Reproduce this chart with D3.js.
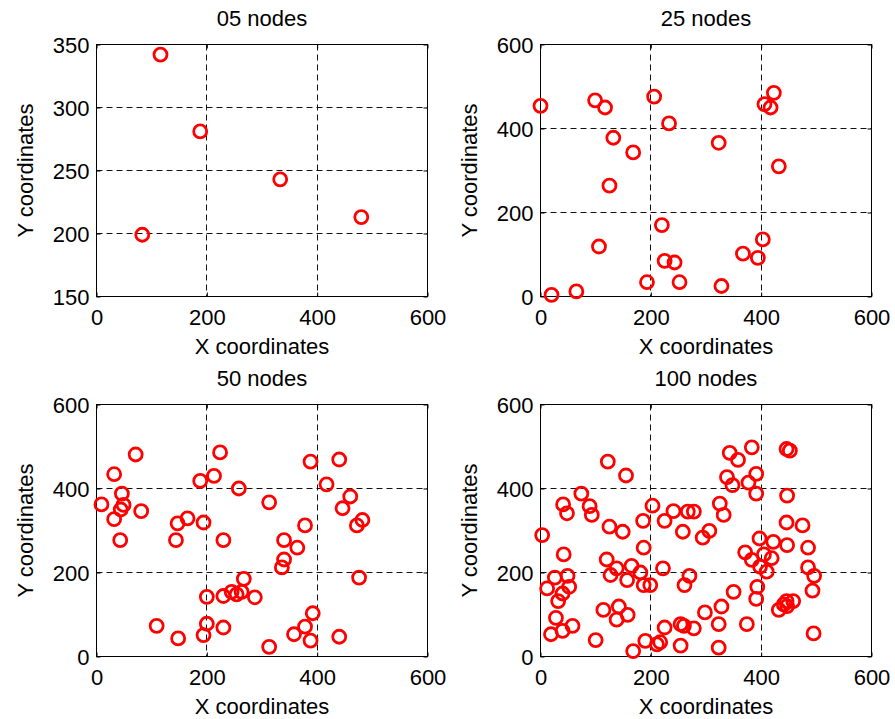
<!DOCTYPE html>
<html>
<head>
<meta charset="utf-8">
<script src="https://cdn.jsdelivr.net/npm/d3@7"></script>
<style>
  html, body { margin: 0; padding: 0; background: #fff; }
  svg { display: block; font-family: "Liberation Sans", Arial, sans-serif; }
</style>
</head>
<body>
<svg id="chart" width="895" height="719"></svg>
<script>
// Tick values and labels
const xTicks = [0, 200, 400, 600];
const yTicks05 = [150, 200, 250, 300, 350];
const yTicksN = [0, 200, 400, 600];
const titles = ["05 nodes", "25 nodes", "50 nodes", "100 nodes"];
const xLabel = "X coordinates";
const yLabel = "Y coordinates";

// Node positions for each network size
const nodes05X = [116, 188, 333, 480, 83];
const nodes05Y = [342, 281, 243, 213, 199];

const nodes25X = [0, 99, 117, 206, 233, 132, 168, 323, 406, 423, 417, 432, 125,
                  220, 106, 225, 243, 193, 252, 328, 367, 394, 403, 20, 65];
const nodes25Y = [454, 467, 450, 476, 412, 378, 343, 366, 458, 485, 450, 310, 264,
                  170, 119, 85, 81, 34, 34, 25, 102, 92, 136, 4, 12];

const nodes50X = [71, 32, 46, 49, 9, 44, 32, 81, 43, 224, 213, 188, 258, 165, 147, 194, 144,
                  230, 313, 388, 440, 417, 460, 446, 482, 472, 378, 340, 364, 340, 336, 476,
                  267, 200, 230, 245, 263, 254, 287, 109, 148, 200, 194, 230, 313, 392, 378,
                  358, 388, 440];
const nodes50Y = [481, 434, 388, 361, 362, 350, 327, 346, 277, 486, 430, 418, 400, 329, 317, 319, 277,
                  277, 367, 464, 469, 410, 381, 353, 325, 312, 312, 277, 259, 231, 212, 188,
                  185, 142, 144, 154, 154, 148, 141, 73, 43, 78, 51, 69, 23, 103, 71,
                  53, 38, 47];

const nodes100X = [122, 155, 74, 41, 48, 89, 93, 125, 149, 203, 186, 225, 241, 267, 278, 258, 294, 3,
                   383, 343, 358, 446, 452, 391, 338, 348, 377, 391, 447, 325, 332, 306, 446, 475, 397, 422,
                   447, 485, 371, 383, 405, 419, 398, 410, 485, 496, 393, 493, 350, 391, 446, 458, 441,
                   432, 447, 328, 298, 323, 374, 495, 323,
                   42, 187, 120, 138, 127, 165, 157, 181, 187, 199, 222, 270, 261, 26, 49, 12, 52, 40,
                   32, 28, 19, 40, 58, 100, 114, 142, 138, 158, 168, 190, 211, 217, 225, 254, 260, 278, 254];
const nodes100Y = [464, 431, 388, 362, 341, 358, 337, 309, 297, 359, 323, 323, 346, 345, 345, 297, 283, 289,
                   498, 485, 468, 494, 490, 435, 427, 408, 414, 388, 383, 364, 337, 299, 319, 312, 281, 273,
                   265, 259, 248, 230, 243, 234, 214, 202, 212, 192, 166, 157, 154, 137, 132, 132, 124,
                   111, 120, 119, 105, 77, 77, 55, 21,
                   243, 259, 231, 210, 194, 216, 182, 200, 170, 170, 210, 192, 170, 188, 192, 162, 166, 150,
                   132, 92, 53, 61, 73, 39, 111, 119, 88, 99, 13, 37, 29, 34, 69, 77, 73, 67, 26];

const W = 331, H = 252;
const panels = [
  { title: titles[0], xs: nodes05X, ys: nodes05Y, yDomain: [150, 350], yTicks: yTicks05, left: 96.5, top: 44.5 },
  { title: titles[1], xs: nodes25X, ys: nodes25Y, yDomain: [0, 600], yTicks: yTicksN, left: 540.5, top: 44.5 },
  { title: titles[2], xs: nodes50X, ys: nodes50Y, yDomain: [0, 600], yTicks: yTicksN, left: 96.5, top: 404.5 },
  { title: titles[3], xs: nodes100X, ys: nodes100Y, yDomain: [0, 600], yTicks: yTicksN, left: 540.5, top: 404.5 }
];

const svg = d3.select("#chart");
const FS = 22;
const snap = v => Math.round(v - 0.5) + 0.5;

function styleAxis(sel) {
  sel.select(".domain").remove();
  sel.attr("font-size", FS).attr("font-family", null);
  sel.selectAll(".tick line").attr("stroke", "#000").attr("stroke-width", 1);
  sel.selectAll(".tick text").attr("fill", "#000");
}

panels.forEach(p => {
  const x = d3.scaleLinear().domain([0, 600]).range([p.left, p.left + W]);
  const y = d3.scaleLinear().domain(p.yDomain).range([p.top + H, p.top]);
  const g = svg.append("g");

  // dashed grid
  const grid = g.append("g").attr("stroke", "#111").attr("stroke-width", 1)
    .attr("stroke-dasharray", "6,4").attr("fill", "none");
  grid.selectAll("line.gx").data(xTicks.slice(1, -1)).join("line").attr("class", "gx")
    .attr("x1", d => snap(x(d))).attr("x2", d => snap(x(d)))
    .attr("y1", p.top).attr("y2", p.top + H);
  grid.selectAll("line.gy").data(p.yTicks.slice(1, -1)).join("line").attr("class", "gy")
    .attr("y1", d => snap(y(d))).attr("y2", d => snap(y(d)))
    .attr("x1", p.left).attr("x2", p.left + W);

  // axes with inward ticks on all four sides
  g.append("g").attr("transform", `translate(0,${p.top + H})`)
    .call(d3.axisBottom(x).tickValues(xTicks).tickSizeInner(-4).tickSizeOuter(0).tickPadding(12.5).tickFormat(d3.format("d")))
    .call(styleAxis);
  g.append("g").attr("transform", `translate(0,${p.top})`)
    .call(d3.axisTop(x).tickValues(xTicks).tickSizeInner(-4).tickSizeOuter(0).tickFormat(""))
    .call(styleAxis);
  g.append("g").attr("transform", `translate(${p.left},0)`)
    .call(d3.axisLeft(y).tickValues(p.yTicks).tickSizeInner(-4).tickSizeOuter(0).tickPadding(7).tickFormat(d3.format("d")))
    .call(styleAxis)
    .selectAll(".tick text").attr("dy", "0.36em");
  g.append("g").attr("transform", `translate(${p.left + W},0)`)
    .call(d3.axisRight(y).tickValues(p.yTicks).tickSizeInner(-4).tickSizeOuter(0).tickFormat(""))
    .call(styleAxis);

  // axes box
  g.append("rect").attr("x", p.left).attr("y", p.top).attr("width", W).attr("height", H)
    .attr("fill", "none").attr("stroke", "#000").attr("stroke-width", 1);

  // node markers
  g.append("g").selectAll("circle").data(d3.zip(p.xs, p.ys)).join("circle")
    .attr("cx", d => x(d[0])).attr("cy", d => y(d[1])).attr("r", 6.5)
    .attr("fill", "none").attr("stroke", "#ff0000").attr("stroke-width", 2.8);

  // title and axis labels
  g.append("text").attr("x", p.left + W / 2).attr("y", p.top - 19)
    .attr("text-anchor", "middle").attr("font-size", FS).text(p.title);
  g.append("text").attr("x", p.left + W / 2).attr("y", p.top + H + 57.5)
    .attr("text-anchor", "middle").attr("font-size", FS).text(xLabel);
  g.append("text").attr("transform", `translate(${p.left - 63.5},${p.top + H / 2}) rotate(-90)`)
    .attr("text-anchor", "middle").attr("font-size", FS).text(yLabel);
});
</script>
</body>
</html>
